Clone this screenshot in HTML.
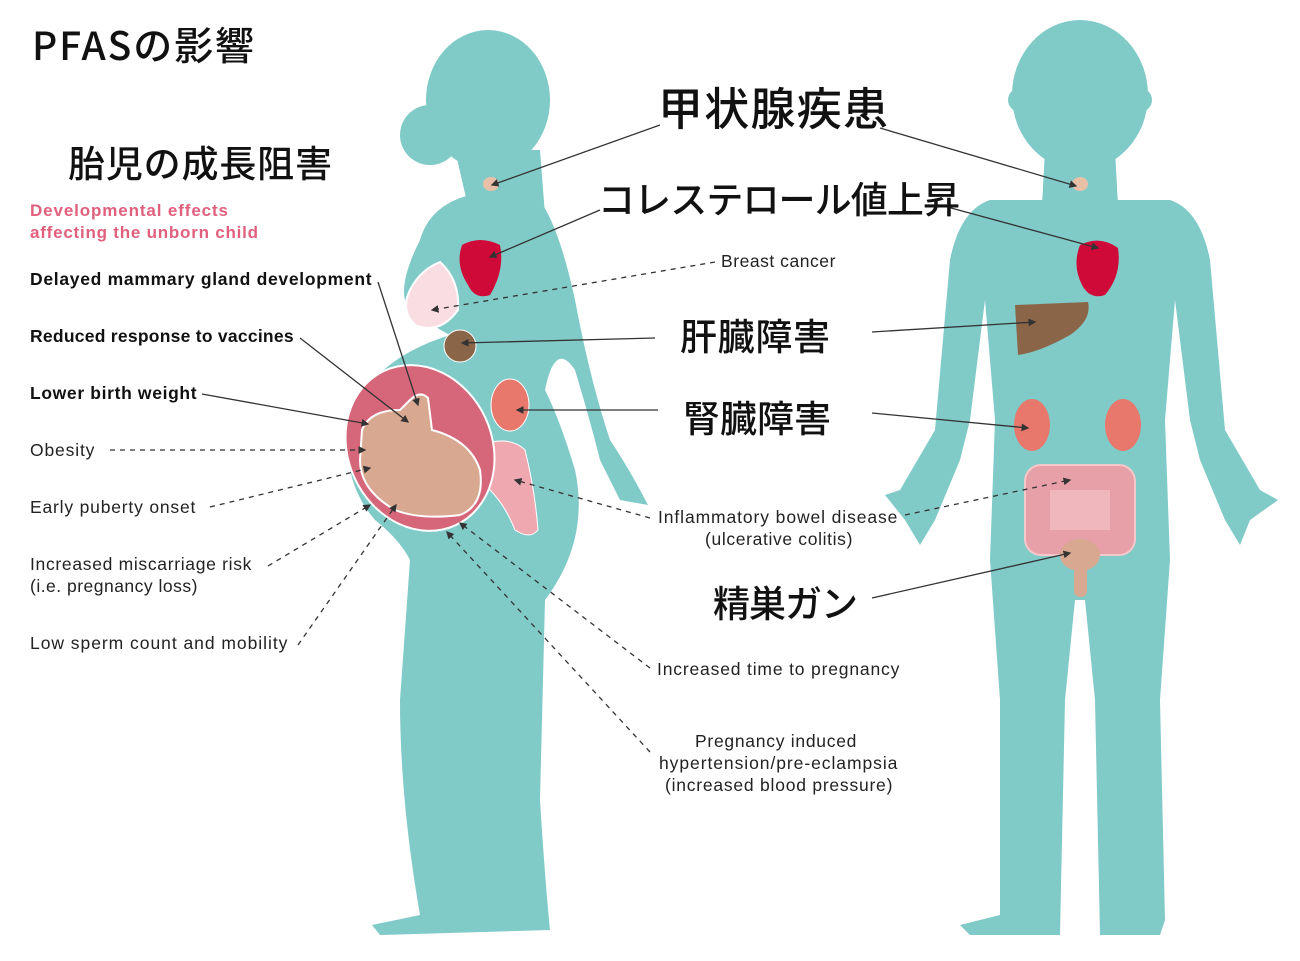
<!DOCTYPE html>
<html><head><meta charset="utf-8"><style>
html,body{margin:0;padding:0;background:#fff;}
svg{display:block;}
text{font-family:"Liberation Sans","Noto Sans CJK JP",sans-serif;}
.jp{font-family:"Noto Sans CJK JP","Liberation Sans",sans-serif;font-weight:500;}
.s{font-size:17.5px;fill:#222;letter-spacing:0.6px;}
.b{font-size:17.5px;fill:#111;font-weight:bold;letter-spacing:0.4px;}
</style></head><body>
<svg width="1300" height="961" viewBox="0 0 1300 961" xmlns="http://www.w3.org/2000/svg">
<defs>
<marker id="a" markerWidth="6" markerHeight="6" refX="5" refY="3" orient="auto"><path d="M0,0 L6,3 L0,6z" fill="#333"/></marker>
</defs>
<g fill="#80cac8">
<!-- woman -->
<circle cx="430" cy="135" r="30"/>
<ellipse cx="488" cy="100" rx="62" ry="70"/>
<path d="M455 150 L540 150 L545 215 L470 215z"/>
<path d="M470 195 Q430 205 420 240 Q400 280 405 300 Q420 320 450 335 Q370 360 350 420 Q340 480 375 520 Q400 540 410 560 L400 700 Q400 800 420 915 L372 925 L380 935 L550 930 Q545 880 540 800 L545 600 Q590 540 575 470 Q560 420 545 390 Q555 340 575 370 Q590 420 600 460 L620 500 L648 505 Q630 470 610 440 Q590 380 575 300 Q560 230 540 200z"/>
<!-- man -->
<ellipse cx="1080" cy="95" rx="68" ry="75"/>
<circle cx="1020" cy="100" r="12"/><circle cx="1140" cy="100" r="12"/>
<path d="M1045 150 L1115 150 L1118 205 L1042 205z"/>
<path d="M990 200 L1170 200 Q1200 210 1210 260 L1225 430 L1260 490 L1278 500 L1250 520 L1240 545 L1225 520 L1200 460 L1190 420 L1175 300 L1165 420 L1170 560 L1160 700 L1165 920 L1160 935 L1100 935 L1095 700 L1085 600 L1075 600 L1065 700 L1060 935 L970 935 L960 925 L1000 915 L1000 700 L990 560 L995 420 L985 300 L970 420 L960 460 L935 520 L920 545 L905 520 L885 495 L900 490 L935 430 L950 260 Q960 210 990 200z"/>
</g>
<!-- woman organs -->
<ellipse cx="491" cy="184" rx="8" ry="7" fill="#e8c0a8"/>
<path d="M462 245 Q480 235 500 245 Q505 270 490 295 Q475 300 468 285 Q455 265 462 245z" fill="#d00a38"/>
<path d="M410 290 Q420 270 440 262 Q460 280 458 310 Q440 335 415 325 Q400 310 410 290z" fill="#f9dde3" stroke="#fff" stroke-width="2"/>
<circle cx="460" cy="346" r="16" fill="#8b6548" stroke="#fff" stroke-width="1"/>
<ellipse cx="510" cy="405" rx="19" ry="26" fill="#e8776c" stroke="#fff" stroke-width="1"/>
<path d="M480 445 Q510 435 525 450 Q535 490 538 530 Q530 540 515 530 Q505 505 490 490 Q475 470 480 445z" fill="#efa8b0" stroke="#fff" stroke-width="1"/>
<ellipse cx="420" cy="448" rx="72" ry="85" transform="rotate(-25 420 448)" fill="#d6677a" stroke="#fff" stroke-width="2"/>
<path d="M362 430 Q370 410 400 410 L410 400 Q420 390 428 398 L432 430 Q470 440 480 470 Q485 505 460 515 Q420 520 395 510 Q360 490 360 460z" fill="#d8a890" stroke="#fff" stroke-width="2"/>
<!-- man organs -->
<ellipse cx="1080" cy="184" rx="8" ry="7" fill="#e8c0a8"/>
<path d="M1080 245 Q1100 235 1118 248 Q1122 275 1105 295 Q1090 300 1082 285 Q1072 265 1080 245z" fill="#d00a38"/>
<path d="M1015 305 L1088 302 Q1092 320 1070 335 Q1040 352 1018 355z" fill="#8b6548"/>
<ellipse cx="1032" cy="425" rx="18" ry="26" fill="#e8776c"/>
<ellipse cx="1123" cy="425" rx="18" ry="26" fill="#e8776c"/>
<rect x="1025" y="465" width="110" height="90" rx="16" fill="#e8a0a8" stroke="#f5c8cc" stroke-width="2"/>
<rect x="1050" y="490" width="60" height="40" fill="#f0b8bc"/>
<ellipse cx="1080" cy="555" rx="20" ry="16" fill="#d8a890"/>
<rect x="1074" y="565" width="13" height="32" rx="6" fill="#d8a890"/>
<!-- lines -->
<g stroke="#333" stroke-width="1.3" fill="none" marker-end="url(#a)">
<line x1="660" y1="125" x2="492" y2="185"/>
<line x1="880" y1="128" x2="1076" y2="186"/>
<line x1="600" y1="210" x2="490" y2="257"/>
<line x1="940" y1="205" x2="1098" y2="248"/>
<line x1="655" y1="338" x2="462" y2="343"/>
<line x1="872" y1="332" x2="1035" y2="322"/>
<line x1="658" y1="410" x2="517" y2="410"/>
<line x1="872" y1="413" x2="1028" y2="428"/>
<line x1="872" y1="598" x2="1070" y2="553"/>
<line x1="378" y1="282" x2="418" y2="405"/>
<line x1="300" y1="338" x2="408" y2="422"/>
<line x1="202" y1="394" x2="368" y2="424"/>
</g>
<g stroke="#333" stroke-width="1.3" fill="none" stroke-dasharray="5,5" marker-end="url(#a)">
<line x1="715" y1="262" x2="432" y2="310"/>
<line x1="650" y1="518" x2="515" y2="480"/>
<line x1="905" y1="515" x2="1070" y2="480"/>
<line x1="650" y1="668" x2="460" y2="523"/>
<line x1="650" y1="752" x2="447" y2="532"/>
<line x1="110" y1="450" x2="365" y2="450"/>
<line x1="210" y1="507" x2="370" y2="468"/>
<line x1="268" y1="566" x2="370" y2="505"/>
<line x1="298" y1="645" x2="396" y2="505"/>
</g>
<!-- text -->
<text x="32" y="60" class="jp" font-size="39" fill="#111" textLength="222">PFASの影響</text>
<text x="68" y="177" class="jp" font-size="37" fill="#111" textLength="264">胎児の成長阻害</text>
<text x="30" y="216" font-size="17" fill="#e0607e" font-weight="bold" textLength="198">Developmental effects</text>
<text x="30" y="238" font-size="17" fill="#e0607e" font-weight="bold" textLength="228">affecting the unborn child</text>
<text x="30" y="285" class="b" textLength="342">Delayed mammary gland development</text>
<text x="30" y="342" class="b" textLength="264">Reduced response to vaccines</text>
<text x="30" y="399" class="b" textLength="167">Lower birth weight</text>
<text x="30" y="456" class="s" textLength="65">Obesity</text>
<text x="30" y="513" class="s" textLength="166">Early puberty onset</text>
<text x="30" y="570" class="s" textLength="222">Increased miscarriage risk</text>
<text x="30" y="592" class="s" textLength="168">(i.e. pregnancy loss)</text>
<text x="30" y="649" class="s" textLength="258">Low sperm count and mobility</text>
<text x="658" y="125" class="jp" font-size="45" fill="#111" textLength="230">甲状腺疾患</text>
<text x="598" y="213" class="jp" font-size="37" fill="#111" textLength="362">コレステロール値上昇</text>
<text x="680" y="350" class="jp" font-size="37" fill="#111" textLength="150">肝臓障害</text>
<text x="683" y="432" class="jp" font-size="37" fill="#111" textLength="148">腎臓障害</text>
<text x="713" y="617" class="jp" font-size="37" fill="#111" textLength="145">精巣ガン</text>
<text x="721" y="267" class="s" textLength="115">Breast cancer</text>
<text x="658" y="523" class="s" textLength="240">Inflammatory bowel disease</text>
<text x="705" y="545" class="s" textLength="148">(ulcerative colitis)</text>
<text x="657" y="675" class="s" textLength="243">Increased time to pregnancy</text>
<text x="695" y="747" class="s" textLength="162">Pregnancy induced</text>
<text x="659" y="769" class="s" textLength="239">hypertension/pre-eclampsia</text>
<text x="665" y="791" class="s" textLength="228">(increased blood pressure)</text>
</svg>
</body></html>
